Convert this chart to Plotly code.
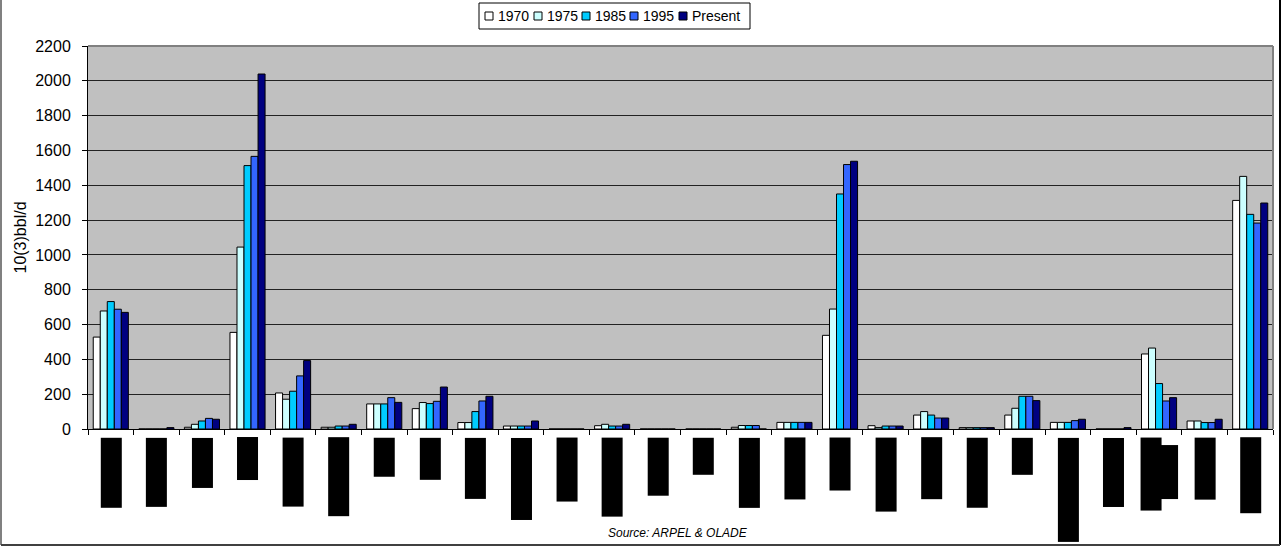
import plotly.graph_objects as go

# ---- data ----
countries = [
    "Argentina", "Barbados", "Bolivia", "Brasil", "Colombia", "Costa Rica",
    "Chile", "Cuba", "Ecuador", "El Salvador", "Grenada", "Guatemala",
    "Guyana", "Haití", "Honduras", "Jamaica", "México", "Nicaragua",
    "Panamá", "Paraguay", "Perú", "R. Dominicana", "Suriname",
    "Trinidad & Tobago", "Uruguay", "Venezuela",
]

v1970 = [528, 0, 10, 555, 207, 10, 144, 117, 37, 17, 0, 19, 0, 0, 10, 38,
         538, 19, 80, 8, 80, 38, 0, 431, 46, 1313]
v1975 = [678, 0, 27, 1045, 171, 10, 144, 152, 37, 17, 0, 27, 0, 0, 20, 38,
         689, 8, 100, 8, 119, 38, 0, 465, 46, 1451]
v1985 = [732, 0, 46, 1513, 217, 17, 144, 146, 100, 17, 0, 17, 0, 0, 20, 38,
         1350, 17, 80, 8, 188, 38, 0, 261, 37, 1233]
v1995 = [688, 0, 61, 1566, 305, 17, 180, 159, 161, 17, 0, 17, 0, 0, 20, 38,
         1519, 17, 63, 8, 188, 48, 0, 161, 37, 1183]
vPresent = [670, 8, 56, 2039, 393, 27, 153, 241, 188, 46, 0, 27, 0, 0, 0, 38,
            1538, 17, 63, 8, 163, 56, 8, 180, 56, 1298]

series_names = ["1970", "1975", "1985", "1995", "Present"]
series_values = [v1970, v1975, v1985, v1995, vPresent]

y_ticks = [0, 200, 400, 600, 800, 1000, 1200, 1400, 1600, 1800, 2000, 2200]
y_title = "10(3)bbl/d"
source_text = "Source: ARPEL & OLADE"

# ---- styles ----
colors = ["#FFFFFF", "#CCFFFF", "#00CCFF", "#3366FF", "#000080"]
FONT = "Liberation Sans, Arial, sans-serif"

W, H = 1285, 547
ML, MR, MT, MB = 88, 12, 46, 118
PW, PH = W - ML - MR, H - MT - MB


def px_x(px):
    return (px - ML) / PW


def px_y(py):
    return (H - MB - py) / PH


fig = go.Figure()
for name, vals, col in zip(series_names, series_values, colors):
    fig.add_trace(go.Bar(
        x=countries, y=vals, name=name,
        marker=dict(color=col, line=dict(color="black", width=1)),
        showlegend=False,
    ))

fig.update_layout(
    width=W, height=H,
    margin=dict(l=ML, r=MR, t=MT, b=MB, pad=0, autoexpand=False),
    paper_bgcolor="white",
    plot_bgcolor="#C0C0C0",
    barmode="group", bargap=0.23, bargroupgap=0,
    font=dict(family=FONT, color="black"),
    showlegend=False,
)

fig.update_xaxes(
    type="category", showgrid=False, showticklabels=False,
    ticks="outside", tickson="boundaries", ticklen=5, tickcolor="black",
    showline=True, linecolor="black", linewidth=1,
    range=[-0.5, len(countries) - 0.5], fixedrange=True,
)
fig.update_yaxes(
    range=[0, 2200], tickvals=y_ticks,
    showgrid=True, gridcolor="#222222", gridwidth=1,
    zeroline=False,
    ticks="outside", ticklen=5, tickcolor="black",
    showline=True, linecolor="black", linewidth=1,
    tickfont=dict(size=16, family=FONT),
    ticklabelstandoff=8,
    title=dict(text=y_title, font=dict(size=16, family=FONT), standoff=4),
    fixedrange=True,
)

shapes = [
    # plot-area border (top and right, grey)
    dict(type="line", xref="paper", yref="paper", x0=0, x1=1, y0=1, y1=1,
         line=dict(color="#808080", width=2)),
    dict(type="line", xref="paper", yref="paper", x0=1, x1=1, y0=0, y1=1,
         line=dict(color="#808080", width=2)),
    # chart-area border
    dict(type="line", xref="paper", yref="paper", x0=px_x(1), x1=px_x(1),
         y0=px_y(0), y1=px_y(545), line=dict(color="#808080", width=2)),
    dict(type="line", xref="paper", yref="paper", x0=px_x(1280), x1=px_x(1280),
         y0=px_y(0), y1=px_y(545), line=dict(color="black", width=2)),
    dict(type="line", xref="paper", yref="paper", x0=px_x(1), x1=px_x(1280),
         y0=px_y(545), y1=px_y(545), line=dict(color="#404040", width=2)),
]

annotations = []

# ---- custom compact legend (box, swatches, labels) ----
LEG_X0, LEG_X1, LEG_Y0, LEG_Y1 = 479, 750, 3, 29
shapes.append(dict(type="rect", xref="paper", yref="paper",
                   x0=px_x(LEG_X0), x1=px_x(LEG_X1),
                   y0=px_y(LEG_Y1), y1=px_y(LEG_Y0),
                   line=dict(color="black", width=1), fillcolor="white"))
swatch_left = [485, 534, 582, 630, 679]
for name, col, sx in zip(series_names, colors, swatch_left):
    shapes.append(dict(type="rect", xref="paper", yref="paper",
                       x0=px_x(sx), x1=px_x(sx + 8),
                       y0=px_y(20), y1=px_y(12),
                       line=dict(color="black", width=1), fillcolor=col))
    annotations.append(dict(
        x=px_x(sx + 11), y=px_y(16), xref="paper", yref="paper",
        xanchor="left", yanchor="middle", showarrow=False, text=name,
        font=dict(size=14, family=FONT, color="black"),
    ))

# ---- category labels (rendered as solid black blocks, as in the reference) ----
for c in countries:
    lines = c.replace("Trinidad & ", "Trinidad &amp;\n").split("\n")
    n = len(lines)
    for i, ln in enumerate(lines):
        annotations.append(dict(
            x=c, xref="x", y=px_y(437), yref="paper",
            xanchor="center", yanchor="top",
            xshift=(i - (n - 1) / 2) * 16, yshift=-8 * i,
            text=ln, textangle=-90, showarrow=False,
            font=dict(size=15, family=FONT, color="black"),
            bgcolor="black", borderpad=2, height=16, align="center",
        ))

annotations.append(dict(
    x=px_x(678), y=px_y(533), xref="paper", yref="paper",
    xanchor="center", yanchor="middle", showarrow=False,
    text="<i>" + source_text.replace("&", "&amp;") + "</i>",
    font=dict(size=12, family=FONT, color="black"),
))

fig.update_layout(shapes=shapes, annotations=annotations)

fig.write_html(
    "out.html",
    config={"displayModeBar": False},
    post_script="document.body.style.margin='0px';document.body.style.padding='0px';",
)
